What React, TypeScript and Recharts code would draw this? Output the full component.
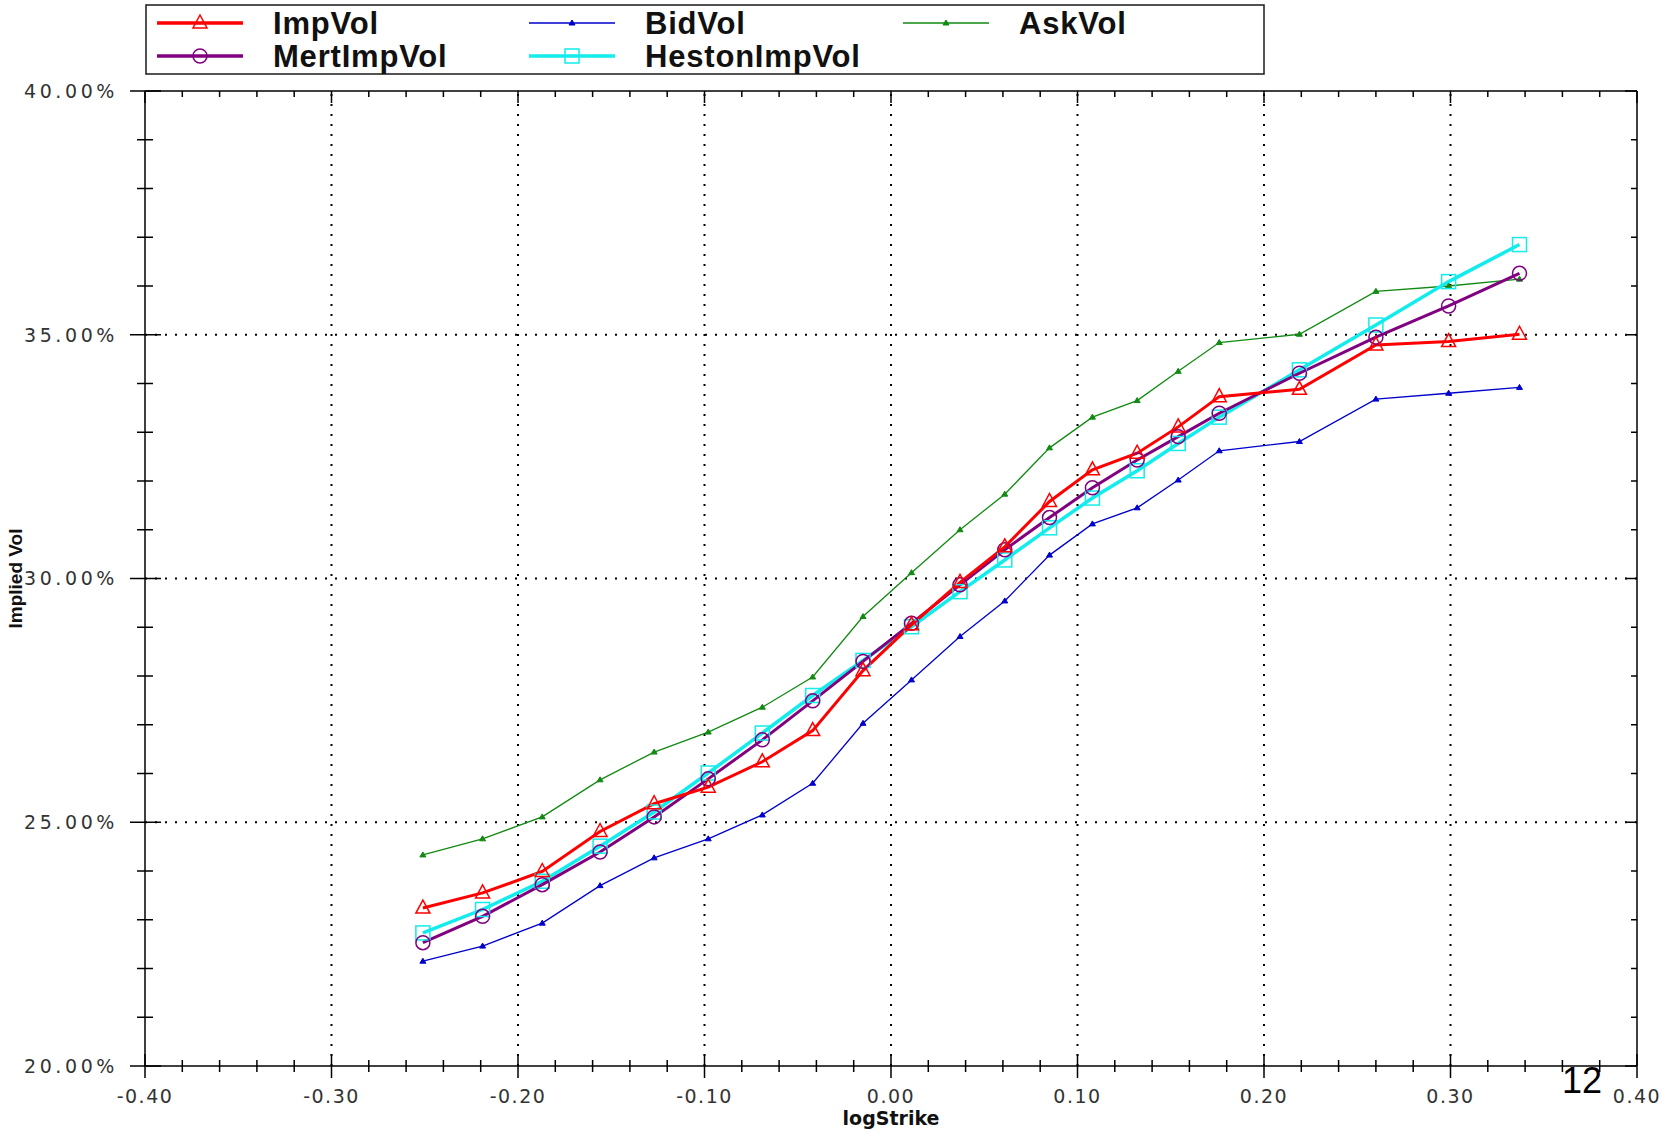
import React from 'react';
import { LineChart, Line, XAxis, YAxis, ReferenceLine, Legend } from 'recharts';

// log strike of each quoted option
const logStrike = [-0.251, -0.219, -0.187, -0.156, -0.127, -0.098, -0.069, -0.042, -0.015, 0.011, 0.037, 0.061, 0.085, 0.108, 0.132, 0.154, 0.176, 0.219, 0.26, 0.299, 0.337];

// vols in percent
const impVol = [23.24, 23.55, 23.99, 24.81, 25.38, 25.72, 26.24, 26.88, 28.11, 29.05, 29.92, 30.65, 31.58, 32.23, 32.57, 33.11, 33.73, 33.88, 34.79, 34.86, 35.01];
const bidVol = [22.15, 22.46, 22.93, 23.7, 24.27, 24.66, 25.15, 25.8, 27.03, 27.92, 28.81, 29.54, 30.48, 31.12, 31.45, 32.02, 32.62, 32.81, 33.68, 33.8, 33.92];
const askVol = [24.33, 24.66, 25.11, 25.87, 26.44, 26.85, 27.36, 27.98, 29.22, 30.12, 31.0, 31.73, 32.68, 33.31, 33.65, 34.25, 34.84, 35.01, 35.89, 36.0, 36.14];
const mertImpVol = [22.53, 23.07, 23.72, 24.39, 25.11, 25.89, 26.69, 27.49, 28.3, 29.08, 29.87, 30.59, 31.25, 31.86, 32.43, 32.91, 33.39, 34.21, 34.95, 35.59, 36.26];
const hestonImpVol = [22.73, 23.21, 23.79, 24.51, 25.21, 26.01, 26.83, 27.6, 28.32, 29.01, 29.73, 30.38, 31.04, 31.65, 32.21, 32.77, 33.31, 34.28, 35.2, 36.09, 36.85];

const xTicks = [
  -0.4, -0.38, -0.36, -0.34, -0.32, -0.3, -0.28, -0.26, -0.24, -0.22, -0.2, -0.18, -0.16, -0.14, -0.12, -0.1,
  -0.08, -0.06, -0.04, -0.02, 0, 0.02, 0.04, 0.06, 0.08, 0.1, 0.12, 0.14, 0.16, 0.18, 0.2, 0.22, 0.24, 0.26,
  0.28, 0.3, 0.32, 0.34, 0.36, 0.38, 0.4,
];
const xMajor = [-0.4, -0.3, -0.2, -0.1, 0, 0.1, 0.2, 0.3, 0.4];
const xGrid = [-0.3, -0.2, -0.1, 0, 0.1, 0.2, 0.3];

const yTicks = [20, 21, 22, 23, 24, 25, 26, 27, 28, 29, 30, 31, 32, 33, 34, 35, 36, 37, 38, 39, 40];
const yMajor = [20, 25, 30, 35, 40];
const yGrid = [25, 30, 35];

const chartData = logStrike.map((x, i) => ({
  x,
  impVol: impVol[i],
  bidVol: bidVol[i],
  askVol: askVol[i],
  mertImpVol: mertImpVol[i],
  hestonImpVol: hestonImpVol[i],
}));

const RED = '#ff0000';
const BLUE = '#0000cc';
const GREEN = '#118a11';
const PURPLE = '#800080';
const CYAN = '#12ecec';

const TICK_FONT = '"DejaVu Sans", sans-serif';

type Marker = 'triangle' | 'circle' | 'square' | 'small';

function drawMarker(kind: Marker, cx: number, cy: number, color: string, key?: number) {
  if (kind === 'triangle') {
    const pts = `${cx},${cy - 8} ${cx - 7},${cy + 5} ${cx + 7},${cy + 5}`;
    return <polygon key={key} points={pts} fill="none" stroke={color} strokeWidth={1.5} />;
  }
  if (kind === 'circle') {
    return <circle key={key} cx={cx} cy={cy} r={7} fill="none" stroke={color} strokeWidth={1.5} />;
  }
  if (kind === 'square') {
    return <rect key={key} x={cx - 7} y={cy - 7} width={14} height={14} fill="none" stroke={color} strokeWidth={1.5} />;
  }
  const pts = `${cx},${cy - 3} ${cx - 3},${cy + 2} ${cx + 3},${cy + 2}`;
  return <polygon key={key} points={pts} fill={color} stroke={color} strokeWidth={1} />;
}

const dotFor = (kind: Marker, color: string) => (props: any) => {
  const { cx, cy, index } = props;
  if (cx == null || cy == null) return <g key={index} />;
  return drawMarker(kind, cx, cy, color, index);
};

const isMajorX = (v: number) => xMajor.some((m) => Math.abs(m - v) < 1e-9);
const isMajorY = (v: number) => yMajor.includes(v);

const BottomTick = (props: any) => {
  const { x, y, payload } = props;
  const major = isMajorX(payload.value);
  const len = major ? 12 : 6;
  return (
    <g>
      <line x1={x} x2={x} y1={y - len} y2={y + len} stroke="#000" strokeWidth={1.5} />
      {major && (
        <text x={x} y={y + 37} textAnchor="middle" fontFamily={TICK_FONT} fontSize={19} letterSpacing={1.5} fill="#333">
          {payload.value.toFixed(2)}
        </text>
      )}
    </g>
  );
};

const TopTick = (props: any) => {
  const { x, y, payload } = props;
  const len = isMajorX(payload.value) ? 12 : 6;
  return <line x1={x} x2={x} y1={y} y2={y + len} stroke="#000" strokeWidth={1.5} />;
};

const LeftTick = (props: any) => {
  const { x, y, payload } = props;
  const major = isMajorY(payload.value);
  return (
    <g>
      <line x1={major ? x - 15 : x - 8} x2={major ? x + 16 : x + 8} y1={y} y2={y} stroke="#000" strokeWidth={1.5} />
      {major && (
        <text x={x - 27} y={y} dy="0.36em" textAnchor="end" fontFamily={TICK_FONT} fontSize={19} letterSpacing={3.6} fill="#333">
          {`${payload.value.toFixed(2)}%`}
        </text>
      )}
    </g>
  );
};

const RightTick = (props: any) => {
  const { x, y, payload } = props;
  const len = isMajorY(payload.value) ? 12 : 6;
  return <line x1={x - len} x2={x} y1={y} y2={y} stroke="#000" strokeWidth={1.5} />;
};

const series = [
  { key: 'impVol', name: 'ImpVol', color: RED, width: 3, marker: 'triangle' as Marker },
  { key: 'bidVol', name: 'BidVol', color: BLUE, width: 1.3, marker: 'small' as Marker },
  { key: 'askVol', name: 'AskVol', color: GREEN, width: 1.3, marker: 'small' as Marker },
  { key: 'mertImpVol', name: 'MertImpVol', color: PURPLE, width: 3, marker: 'circle' as Marker },
  { key: 'hestonImpVol', name: 'HestonImpVol', color: CYAN, width: 3.5, marker: 'square' as Marker },
];

// draw order: quotes first, model fits, then market vol on top
const drawOrder = ['askVol', 'bidVol', 'hestonImpVol', 'mertImpVol', 'impVol'];

const legendCols = [12, 384, 758];
const legendRows = [19, 52];

const renderLegend = () => (
  <svg width={1121} height={72} style={{ display: 'block' }}>
    <rect x={1} y={1} width={1118} height={69} fill="#fff" stroke="#1a1a1a" strokeWidth={1.5} />
    {series.map((s, i) => {
      const col = legendCols[i % 3];
      const row = legendRows[Math.floor(i / 3)];
      const mid = col + 43;
      return (
        <g key={s.key}>
          <line x1={col} x2={col + 86} y1={row} y2={row} stroke={s.color} strokeWidth={s.width > 2 ? 3.5 : 1.5} />
          {drawMarker(s.marker, mid, row, s.color)}
          <text
            x={col + 116}
            y={row}
            dy="0.36em"
            fontFamily='"Liberation Sans", Arial, sans-serif'
            fontWeight="bold"
            fontSize={31}
            letterSpacing={0.8}
            fill="#111"
          >
            {s.name}
          </text>
        </g>
      );
    })}
  </svg>
);

export default function App() {
  return (
    <div style={{ position: 'absolute', left: 0, top: 0, width: 1663, height: 1134, background: '#fff' }}>
      <LineChart width={1663} height={1134} data={chartData} margin={{ top: 90, right: 25, bottom: 0, left: 0 }}>
        {xGrid.map((v) => (
          <ReferenceLine key={`gx${v}`} x={v} stroke="#000" strokeWidth={2} strokeDasharray="2 8" />
        ))}
        {yGrid.map((v) => (
          <ReferenceLine key={`gy${v}`} y={v} stroke="#000" strokeWidth={2} strokeDasharray="2 8" />
        ))}
        <XAxis
          dataKey="x"
          type="number"
          domain={[-0.4, 0.4]}
          ticks={xTicks}
          interval={0}
          allowDataOverflow
          tickSize={0}
          tickMargin={0}
          height={68}
          tick={BottomTick}
          axisLine={{ stroke: '#000', strokeWidth: 1.5 }}
          label={{
            content: (p: any) => (
              <text
                x={p.viewBox.x + p.viewBox.width / 2}
                y={p.viewBox.y + 59}
                textAnchor="middle"
                fontFamily='"DejaVu Sans", sans-serif'
                fontWeight="bold"
                fontSize={19}
                fill="#111"
              >
                logStrike
              </text>
            ),
          }}
        />
        <XAxis
          xAxisId="top"
          orientation="top"
          dataKey="x"
          type="number"
          domain={[-0.4, 0.4]}
          ticks={xTicks}
          interval={0}
          allowDataOverflow
          tickSize={0}
          tickMargin={0}
          height={1}
          tick={TopTick}
          axisLine={{ stroke: '#000', strokeWidth: 1.5 }}
        />
        <YAxis
          type="number"
          domain={[20, 40]}
          ticks={yTicks}
          interval={0}
          allowDataOverflow
          tickSize={0}
          tickMargin={0}
          width={145}
          tick={LeftTick}
          axisLine={{ stroke: '#000', strokeWidth: 1.5 }}
          label={{
            content: (p: any) => {
              const cx = p.viewBox.x + 15;
              const cy = p.viewBox.y + p.viewBox.height / 2;
              return (
                <text
                  x={cx}
                  y={cy}
                  dy="0.36em"
                  transform={`rotate(-90 ${cx} ${cy})`}
                  textAnchor="middle"
                  fontFamily='"Liberation Sans", Arial, sans-serif'
                  fontWeight="bold"
                  fontSize={19}
                  fill="#111"
                >
                  Implied Vol
                </text>
              );
            },
          }}
        />
        <YAxis
          yAxisId="right"
          orientation="right"
          type="number"
          domain={[20, 40]}
          ticks={yTicks}
          interval={0}
          allowDataOverflow
          tickSize={0}
          tickMargin={0}
          width={1}
          tick={RightTick}
          axisLine={{ stroke: '#000', strokeWidth: 1.5 }}
        />
        <Legend
          content={renderLegend}
          layout="horizontal"
          verticalAlign="middle"
          align="center"
          wrapperStyle={{ position: 'absolute', left: 145, top: 4, width: 1121, height: 72 }}
        />
        {drawOrder.map((k) => {
          const s = series.find((d) => d.key === k)!;
          return (
            <Line
              key={s.key}
              type="linear"
              dataKey={s.key}
              name={s.name}
              stroke={s.color}
              strokeWidth={s.width}
              dot={dotFor(s.marker, s.color)}
              activeDot={false}
              isAnimationActive={false}
            />
          );
        })}
      </LineChart>
      <div
        style={{
          position: 'absolute',
          left: 1562,
          top: 1063,
          fontFamily: '"Liberation Sans", Arial, sans-serif',
          fontSize: 36,
          lineHeight: '36px',
          color: '#000',
        }}
      >
        12
      </div>
    </div>
  );
}
